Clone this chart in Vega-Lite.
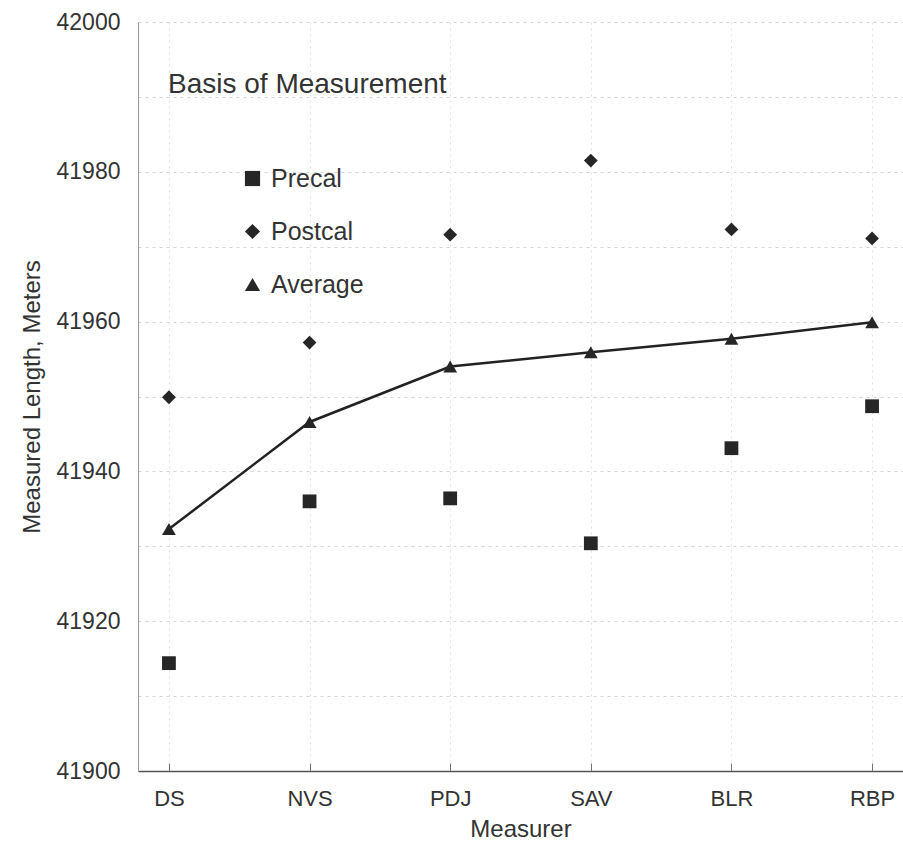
{
  "$schema": "https://vega.github.io/schema/vega-lite/v6.json",
  "width": 765,
  "height": 749,
  "autosize": {"type": "none"},
  "padding": {"left": 138, "top": 22, "right": 0, "bottom": 78},
  "background": "white",
  "config": {
    "font": "Liberation Sans",
    "view": {"stroke": null},
    "axis": {"labelColor": "#333", "titleColor": "#333", "labelFont": "Liberation Sans", "titleFont": "Liberation Sans", "titleFontWeight": "normal"}
  },
  "data": {
    "values": [
      {"measurer": "DS", "series": "Precal", "value": 41914.4},
      {"measurer": "DS", "series": "Postcal", "value": 41949.9},
      {"measurer": "DS", "series": "Average", "value": 41932.3},
      {"measurer": "NVS", "series": "Precal", "value": 41936.0},
      {"measurer": "NVS", "series": "Postcal", "value": 41957.2},
      {"measurer": "NVS", "series": "Average", "value": 41946.6},
      {"measurer": "PDJ", "series": "Precal", "value": 41936.4},
      {"measurer": "PDJ", "series": "Postcal", "value": 41971.6},
      {"measurer": "PDJ", "series": "Average", "value": 41954.0},
      {"measurer": "SAV", "series": "Precal", "value": 41930.4},
      {"measurer": "SAV", "series": "Postcal", "value": 41981.5},
      {"measurer": "SAV", "series": "Average", "value": 41955.9},
      {"measurer": "BLR", "series": "Precal", "value": 41943.1},
      {"measurer": "BLR", "series": "Postcal", "value": 41972.3},
      {"measurer": "BLR", "series": "Average", "value": 41957.7},
      {"measurer": "RBP", "series": "Precal", "value": 41948.7},
      {"measurer": "RBP", "series": "Postcal", "value": 41971.1},
      {"measurer": "RBP", "series": "Average", "value": 41959.9}
    ]
  },
  "encoding": {
    "x": {
      "field": "measurer", "type": "nominal", "sort": ["DS", "NVS", "PDJ", "SAV", "BLR", "RBP"],
      "scale": {"type": "point", "padding": 0.22},
      "axis": {"title": "Measurer", "labelAngle": 0, "labelFontSize": 22, "titleFontSize": 24, "labelPadding": 25, "titlePadding": 8,
               "domainColor": "#555", "domainWidth": 1.5, "tickSize": -8, "tickColor": "#777",
               "grid": true, "gridColor": "#e2e2e2", "gridDash": [2, 4]}
    },
    "y": {
      "field": "value", "type": "quantitative",
      "scale": {"domain": [41900, 42000], "nice": false, "zero": false},
      "axis": {"title": "Measured Length, Meters", "values": [41900, 41910, 41920, 41930, 41940, 41950, 41960, 41970, 41980, 41990, 42000],
               "labelExpr": "datum.value % 20 == 0 ? datum.value : ''", "format": "d",
               "labelFontSize": 23, "titleFontSize": 24, "labelPadding": 18, "titlePadding": 12,
               "ticks": false, "domainColor": "#999",
               "grid": true, "gridColor": "#d4d4d4", "gridDash": [3, 4]}
    }
  },
  "layer": [
    {
      "mark": {"type": "line", "color": "#222", "strokeWidth": 2.5},
      "transform": [{"filter": "datum.series == 'Average'"}],
      "encoding": {}
    },
    {
      "mark": {"type": "point", "filled": true, "opacity": 1, "color": "#262626", "size": 190},
      "encoding": {
        "shape": {
          "field": "series", "type": "nominal",
          "scale": {"domain": ["Precal", "Postcal", "Average"], "range": ["square", "diamond", "triangle-up"]},
          "legend": {
            "title": "Basis of Measurement", "orient": "none", "legendX": 30, "legendY": 49,
            "titleFontSize": 28, "titleFontWeight": "normal", "titleColor": "#333", "titlePadding": 67, "titleLimit": 500,
            "labelFontSize": 25, "labelColor": "#333", "rowPadding": 27, "symbolOffset": 72,
            "symbolFillColor": "#222", "symbolStrokeColor": "#222", "symbolSize": 230, "labelOffset": 6
          }
        }
      }
    }
  ]
}
